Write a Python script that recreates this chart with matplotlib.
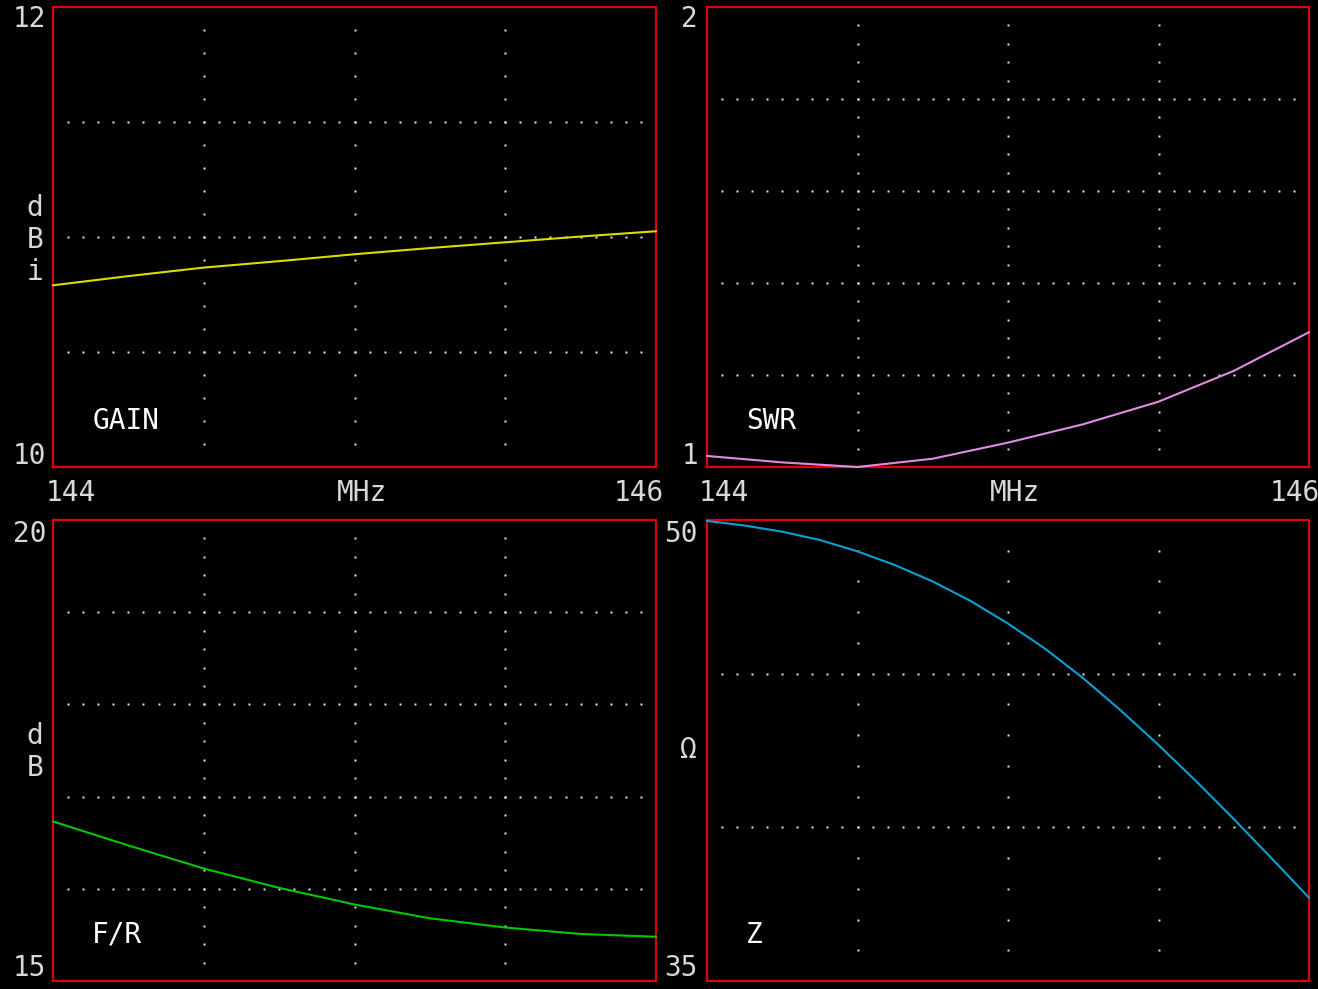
import numpy as np
import matplotlib
matplotlib.use("Agg")
import matplotlib.pyplot as plt

# frequency points (MHz)
freq = [144.0, 144.25, 144.5, 144.75, 145.0, 145.25, 145.5, 145.75, 146.0]
gain = [10.79, 10.83, 10.867, 10.895, 10.925, 10.952, 10.977, 11.002, 11.025]
swr = [1.024, 1.010, 1.000, 1.018, 1.053, 1.093, 1.142, 1.209, 1.293]
f_r = [16.73, 16.47, 16.22, 16.01, 15.83, 15.68, 15.58, 15.51, 15.48]

freq_z = [144.0, 144.125, 144.25, 144.375, 144.5, 144.625, 144.75, 144.875,
          145.0, 145.125, 145.25, 145.375, 145.5, 145.625, 145.75, 145.875, 146.0]
z_ohm = [49.97, 49.82, 49.62, 49.35, 48.98, 48.53, 48.0, 47.37,
         46.63, 45.8, 44.85, 43.8, 42.68, 41.5, 40.27, 39.0, 37.71]

W, H = 1318, 989
fig = plt.figure(figsize=(W / 100, H / 100), dpi=100, facecolor="black")

txt_col = "#d8d8d8"
dot_col = "#e6e6e6"
font = "DejaVu Sans Mono"


def px(x, y):
    return x / W, 1 - y / H


def panel(x0, y0, x1, y1, ylim, nrows, xs, ys, col, name):
    l, t = px(x0, y0)
    r, b = px(x1, y1)
    ax = fig.add_axes([l, b, r - l, t - b])
    ax.set_facecolor("black")
    ax.set_xlim(144, 146)
    ax.set_ylim(*ylim)
    ax.set_xticks([])
    ax.set_yticks([])
    for s in ax.spines.values():
        s.set_color("#e00000")
        s.set_linewidth(1.6)
    # dotted grid: vertical lines at quarters, 5 dots per row division
    ymin, ymax = ylim
    vy = np.linspace(ymin, ymax, nrows * 5 + 1)[1:-1]
    for gx in [144.5, 145.0, 145.5]:
        ax.plot(np.full(len(vy), gx), vy, ls="none", marker="s", ms=1.7,
                mec="none", mfc=dot_col)
    hx = np.linspace(144, 146, 41)[1:-1]
    for gy in np.linspace(ymin, ymax, nrows + 1)[1:-1]:
        ax.plot(hx, np.full(len(hx), gy), ls="none", marker="s", ms=1.7,
                mec="none", mfc=dot_col)
    ax.plot(xs, ys, color=col, lw=1.5, clip_on=False, zorder=5)
    ax.text(0.065, 0.1, name, transform=ax.transAxes, color="white",
            fontsize=20, family=font, va="center", ha="left")
    return ax


panel(53, 7, 656, 467, (10, 12), 4, freq, gain, "#dcdc00", "GAIN")
panel(707, 7, 1309, 467, (1, 2), 5, freq, swr, "#e08ce0", "SWR")
panel(53, 520, 656, 981, (15, 20), 5, freq, f_r, "#00c800", "F/R")
panel(707, 520, 1309, 981, (35, 50), 3, freq_z, z_ohm, "#0aa0d2", "Z")


def label(x, y, s, ha="center"):
    fig.text(*px(x, y), s, color=txt_col, fontsize=20, family=font,
             ha=ha, va="center")


# left scale labels
label(46, 19, "12", "right")
label(46, 456, "10", "right")
label(35, 208, "d")
label(35, 240, "B")
label(35, 272, "i")
label(46, 534, "20", "right")
label(46, 968, "15", "right")
label(35, 736, "d")
label(35, 768, "B")

label(698, 19, "2", "right")
label(698, 456, "1", "right")
label(698, 534, "50", "right")
label(698, 968, "35", "right")
label(688, 750, "Ω")

# frequency axis labels between rows
label(46, 493, "144", "left")
label(362, 493, "MHz")
label(664, 493, "146", "right")
label(699, 493, "144", "left")
label(1015, 493, "MHz")
label(1320, 493, "146", "right")

fig.savefig("out.png", dpi=100, facecolor="black")
